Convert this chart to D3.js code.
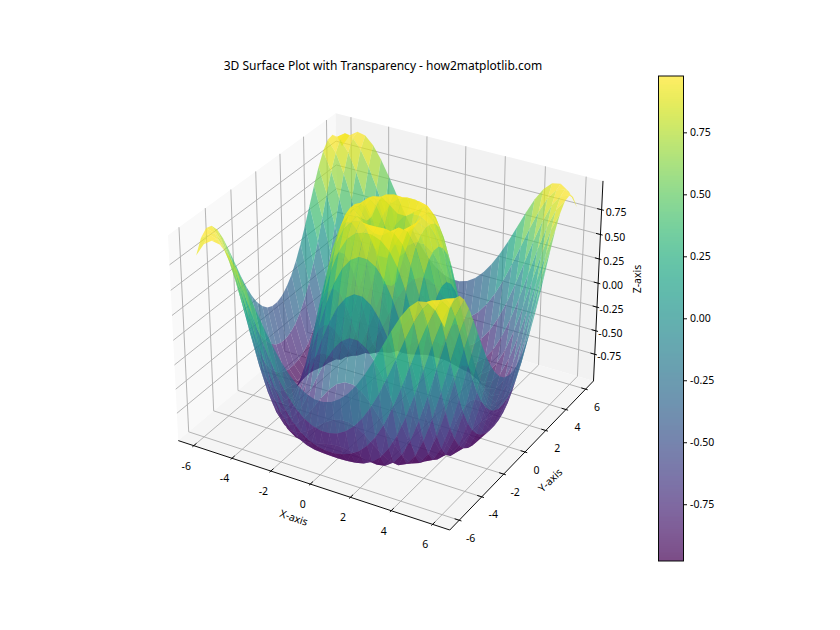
<!DOCTYPE html>
<html>
<head>
<meta charset="utf-8">
<script src="https://cdn.jsdelivr.net/npm/d3@7"></script>
<style>
  html, body { margin: 0; padding: 0; background: #fff; }
  text { font-family: "Noto Sans", sans-serif; fill: #000; }
</style>
</head>
<body>
<div id="chart-container"></div>
<script>
// grid positions on the positive side, the surface is mirrored around 0
const gridOffsets = [0.207, 0.621, 1.034, 1.448, 1.862, 2.276, 2.69, 3.103, 3.517, 3.931, 4.345, 4.759, 5.172, 5.586, 6];

// z of one quadrant, rows and columns follow gridOffsets
const zQuadrant = [
  [0.288, 0.609, 0.87, 0.994, 0.955, 0.756, 0.43, 0.031, -0.372, -0.714, -0.935, -0.999, -0.894, -0.639, -0.276],
  [0.609, 0.769, 0.935, 1.0, 0.924, 0.705, 0.372, -0.023, -0.417, -0.743, -0.948, -0.996, -0.879, -0.615, -0.249],
  [0.87, 0.935, 0.994, 0.978, 0.848, 0.598, 0.257, -0.129, -0.501, -0.798, -0.97, -0.988, -0.846, -0.566, -0.193],
  [0.994, 1.0, 0.978, 0.888, 0.705, 0.43, 0.087, -0.279, -0.615, -0.866, -0.991, -0.966, -0.791, -0.49, -0.111],
  [0.955, 0.924, 0.848, 0.705, 0.487, 0.2, -0.129, -0.46, -0.743, -0.935, -1.0, -0.922, -0.707, -0.385, -0.001],
  [0.756, 0.705, 0.598, 0.43, 0.2, -0.077, -0.372, -0.65, -0.866, -0.986, -0.982, -0.846, -0.591, -0.249, 0.133],
  [0.43, 0.372, 0.257, 0.087, -0.129, -0.372, -0.615, -0.822, -0.96, -0.999, -0.922, -0.729, -0.438, -0.083, 0.288],
  [0.031, -0.023, -0.129, -0.279, -0.46, -0.65, -0.822, -0.948, -1.0, -0.957, -0.81, -0.566, -0.249, 0.107, 0.455],
  [-0.372, -0.417, -0.501, -0.615, -0.743, -0.866, -0.96, -1.0, -0.966, -0.846, -0.639, -0.358, -0.028, 0.313, 0.622],
  [-0.714, -0.743, -0.798, -0.866, -0.935, -0.986, -0.999, -0.957, -0.846, -0.662, -0.411, -0.111, 0.212, 0.521, 0.777],
  [-0.935, -0.948, -0.97, -0.991, -1.0, -0.982, -0.922, -0.81, -0.639, -0.411, -0.138, 0.16, 0.455, 0.713, 0.902],
  [-0.999, -0.996, -0.988, -0.966, -0.922, -0.846, -0.729, -0.566, -0.358, -0.111, 0.16, 0.432, 0.678, 0.87, 0.981],
  [-0.894, -0.879, -0.846, -0.791, -0.707, -0.591, -0.438, -0.249, -0.028, 0.212, 0.455, 0.678, 0.858, 0.971, 0.998],
  [-0.639, -0.615, -0.566, -0.49, -0.385, -0.249, -0.083, 0.107, 0.313, 0.521, 0.713, 0.87, 0.971, 0.999, 0.941],
  [-0.276, -0.249, -0.193, -0.111, -0.001, 0.133, 0.288, 0.455, 0.622, 0.777, 0.902, 0.981, 0.998, 0.941, 0.807],
];

const xyTicks = [-6, -4, -2, 0, 2, 4, 6];
const zTicks = [-0.75, -0.5, -0.25, 0, 0.25, 0.5, 0.75];
const colorbarTicks = [-0.75, -0.5, -0.25, 0, 0.25, 0.5, 0.75];

const xyLim = 6.545;
const zLim = 0.9965;

const width = 840;
const height = 630;
const alpha = 0.7;

const svg = d3
  .select("#chart-container")
  .append("svg")
  .attr("width", width)
  .attr("height", height)
  .style("display", "block");

// mirror the quadrant out to the full grid
const gridX = [...gridOffsets.map((d) => -d).reverse(), ...gridOffsets];
const zAt = (i, j) => {
  const n = gridOffsets.length;
  const a = i < n ? n - 1 - i : i - n;
  const b = j < n ? n - 1 - j : j - n;
  return zQuadrant[a][b];
};

// panes stick out 1/48 of the range past the limits
const xyEdge = xyLim + (2 * xyLim) / 48;
const zEdge = zLim + (2 * zLim) / 48;

const xNorm = d3.scaleLinear().domain([-xyLim, xyLim]).range([0, 1]);
const yNorm = d3.scaleLinear().domain([-xyLim, xyLim]).range([0, 1]);
const zNorm = d3.scaleLinear().domain([-zLim, zLim]).range([0, 1]);

// camera, elev 30 azim -60 dist 10 and box aspect 4:4:3
const elev = (30 * Math.PI) / 180;
const azim = (-60 * Math.PI) / 180;
const dist = 10;
const aspectScale = (1.8294640721620434 * 25) / 24 / Math.hypot(4, 4, 3);
const box = [4 * aspectScale, 4 * aspectScale, 3 * aspectScale];
const center = box.map((d) => d / 2);
const n = [Math.cos(elev) * Math.cos(azim), Math.cos(elev) * Math.sin(azim), Math.sin(elev)];
const eye = center.map((d, i) => d + dist * n[i]);
const uLen = Math.hypot(n[1], n[0]);
const u = [-n[1] / uLen, n[0] / uLen, 0];
const v = [n[1] * u[2] - n[2] * u[1], n[2] * u[0] - n[0] * u[2], n[0] * u[1] - n[1] * u[0]];

const project = (x, y, z) => {
  const p = [xNorm(x) * box[0] - eye[0], yNorm(y) * box[1] - eye[1], zNorm(z) * box[2] - eye[2]];
  const depth = -(p[0] * n[0] + p[1] * n[1] + p[2] * n[2]);
  return {
    x: (p[0] * u[0] + p[1] * u[1] + p[2] * u[2]) / depth,
    y: (p[0] * v[0] + p[1] * v[1] + p[2] * v[2]) / depth,
    depth,
  };
};

// projected box corners pinned to where they sit in the picture
const screenX = d3
  .scaleLinear()
  .domain([project(-xyEdge, -xyEdge, zEdge).x, project(xyEdge, xyEdge, zEdge).x])
  .range([168, 603]);
const screenY = d3
  .scaleLinear()
  .domain([project(xyEdge, -xyEdge, -zEdge).y, project(-xyEdge, xyEdge, zEdge).y])
  .range([530, 113.3]);

const toScreen = (d) => {
  const p = project(d[0], d[1], d[2]);
  return [screenX(p.x), screenY(p.y)];
};
const path3d = (pts) => d3.line()(pts.map(toScreen));

const E = xyEdge;
const Z = zEdge;

const panes = [
  { pts: [[-E, -E, -Z], [-E, E, -Z], [-E, E, Z], [-E, -E, Z]], fill: "#f9f9f9" },
  { pts: [[-E, E, -Z], [E, E, -Z], [E, E, Z], [-E, E, Z]], fill: "#f2f2f2" },
  { pts: [[-E, -E, -Z], [E, -E, -Z], [E, E, -Z], [-E, E, -Z]], fill: "#f5f5f5" },
];

svg
  .append("g")
  .selectAll("path")
  .data(panes)
  .join("path")
  .attr("d", (d) => path3d(d.pts) + "Z")
  .attr("fill", (d) => d.fill);

const gridLines = [
  ...xyTicks.map((t) => [[t, -E, -Z], [t, E, -Z], [t, E, Z]]),
  ...xyTicks.map((t) => [[E, t, -Z], [-E, t, -Z], [-E, t, Z]]),
  ...zTicks.map((t) => [[E, E, t], [-E, E, t], [-E, -E, t]]),
];

svg
  .append("g")
  .selectAll("path")
  .data(gridLines)
  .join("path")
  .attr("d", path3d)
  .attr("fill", "none")
  .attr("stroke", "#b0b0b0")
  .attr("stroke-width", 0.95);

const axisLines = [
  [[-E, -E, -Z], [E, -E, -Z]],
  [[E, -E, -Z], [E, E, -Z]],
  [[E, E, -Z], [E, E, Z]],
];

svg
  .append("g")
  .selectAll("path")
  .data(axisLines)
  .join("path")
  .attr("d", path3d)
  .attr("fill", "none")
  .attr("stroke", "#000")
  .attr("stroke-width", 0.95);

const tickDelta = (2 * xyLim) / 12;
const tickIn = 0.2 * tickDelta;
const tickOut = 0.1 * tickDelta;

const tickMarks = [
  ...xyTicks.map((t) => [[t, -E - tickOut, -Z], [t, -E + tickIn, -Z]]),
  ...xyTicks.map((t) => [[E + tickOut, t, -Z], [E - tickIn, t, -Z]]),
  ...zTicks.map((t) => [[E + tickOut, E, t], [E - tickIn, E, t]]),
];

svg
  .append("g")
  .selectAll("path")
  .data(tickMarks)
  .join("path")
  .attr("d", path3d)
  .attr("fill", "none")
  .attr("stroke", "#000")
  .attr("stroke-width", 0.95);

const tickLabels = [
  ...xyTicks.map((t) => ({ at: [t, -E, -Z], text: `${t}`, dx: -7.5, dy: 20 })),
  ...xyTicks.map((t) => ({ at: [E, t, -Z], text: `${t}`, dx: 11.5, dy: 17.5 })),
  ...zTicks.map((t) => ({ at: [E, E, t], text: t.toFixed(2), dx: 14.5, dy: 2 })),
];

svg
  .append("g")
  .selectAll("text")
  .data(tickLabels)
  .join("text")
  .attr("x", (d) => toScreen(d.at)[0] + d.dx)
  .attr("y", (d) => toScreen(d.at)[1] + d.dy)
  .attr("text-anchor", "middle")
  .attr("dominant-baseline", "central")
  .style("font-size", "10.5px")
  .text((d) => d.text);

// facets, coloured by their mean z and painted far to near
const facets = [];
for (let i = 0; i < gridX.length - 1; i++) {
  for (let j = 0; j < gridX.length - 1; j++) {
    const pts = [
      [gridX[i], gridX[j], zAt(i, j)],
      [gridX[i + 1], gridX[j], zAt(i + 1, j)],
      [gridX[i + 1], gridX[j + 1], zAt(i + 1, j + 1)],
      [gridX[i], gridX[j + 1], zAt(i, j + 1)],
    ];
    facets.push({
      pts,
      z: d3.mean(pts, (d) => d[2]),
      depth: d3.mean(pts, (d) => project(d[0], d[1], d[2]).depth),
    });
  }
}
facets.sort((a, b) => b.depth - a.depth);

const color = d3.scaleSequential(d3.interpolateViridis).domain(d3.extent(facets, (d) => d.z));

svg
  .append("g")
  .selectAll("path")
  .data(facets)
  .join("path")
  .attr("d", (d) => path3d(d.pts) + "Z")
  .attr("fill", (d) => color(d.z))
  .attr("fill-opacity", alpha);

svg
  .append("text")
  .attr("x", 383)
  .attr("y", 65)
  .attr("text-anchor", "middle")
  .attr("dominant-baseline", "central")
  .style("font-size", "12px")
  .text("3D Surface Plot with Transparency - how2matplotlib.com");

const axisTitles = [
  { text: "X-axis", x: 294, y: 517.5, rotate: 19 },
  { text: "Y-axis", x: 550, y: 480, rotate: -44 },
  { text: "Z-axis", x: 637, y: 279, rotate: -90 },
];

svg
  .append("g")
  .selectAll("text")
  .data(axisTitles)
  .join("text")
  .attr("transform", (d) => `translate(${d.x},${d.y}) rotate(${d.rotate})`)
  .attr("text-anchor", "middle")
  .attr("dominant-baseline", "central")
  .style("font-size", "10.5px")
  .text((d) => d.text);

// colorbar
const barLeft = 658.5;
const barWidth = 25;
const barTop = 76;
const barBottom = 561;
const barScale = d3.scaleLinear().domain(color.domain()).range([barBottom, barTop]);
const levelY = d3.scaleLinear().domain([0, 256]).range([barBottom, barTop]);
const levels = d3.range(256);

const bar = svg.append("g");
bar
  .selectAll("rect")
  .data(levels)
  .join("rect")
  .attr("x", barLeft)
  .attr("width", barWidth)
  .attr("y", (d) => Math.round(levelY(d + 1)))
  .attr("height", (d) => Math.round(levelY(d)) - Math.round(levelY(d + 1)))
  .attr("fill", (d) => d3.interpolateViridis(d / 255))
  .attr("fill-opacity", alpha);

bar
  .append("rect")
  .attr("x", barLeft)
  .attr("y", barTop)
  .attr("width", barWidth)
  .attr("height", barBottom - barTop)
  .attr("fill", "none")
  .attr("stroke", "#000")
  .attr("stroke-width", 0.95);

const barAxis = svg
  .append("g")
  .attr("transform", `translate(${barLeft + barWidth},0)`)
  .call(
    d3
      .axisRight(barScale)
      .tickValues(colorbarTicks)
      .tickSize(3.5)
      .tickPadding(3)
      .tickFormat((d) => d.toFixed(2))
  );
barAxis.select(".domain").remove();
barAxis.selectAll(".tick line").attr("stroke-width", 0.95);
barAxis
  .selectAll(".tick text")
  .style("font-size", "10.5px")
  .style("font-family", '"Noto Sans", sans-serif');
</script>
</body>
</html>
